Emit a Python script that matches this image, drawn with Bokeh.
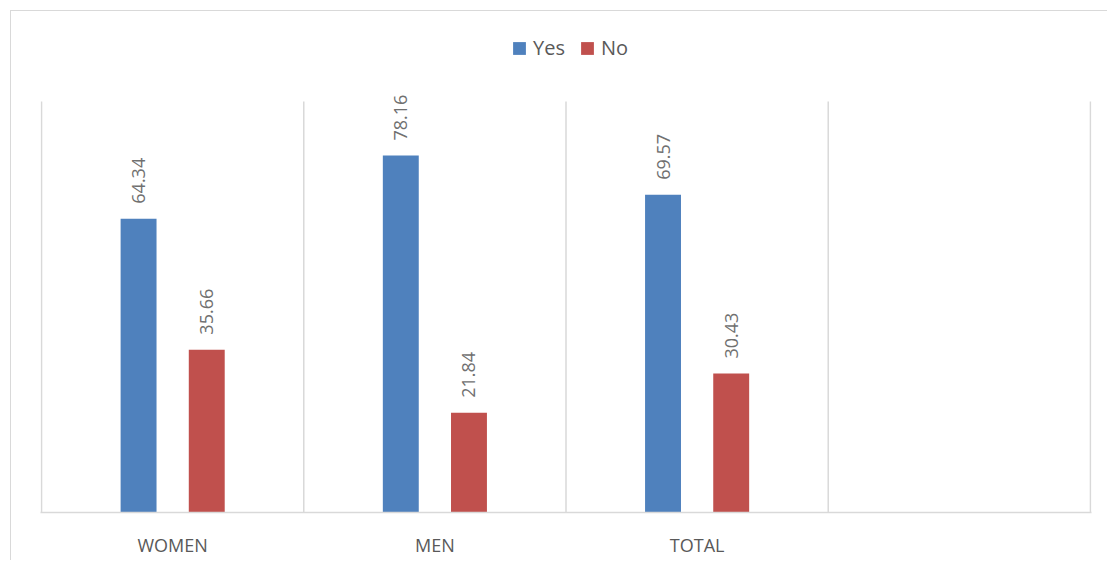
import numpy as np
from bokeh.plotting import figure
from bokeh.models import ColumnDataSource, Range1d, FixedTicker, LabelSet, Legend, LegendItem
from bokeh.core.properties import value
from bokeh.embed import file_html
from bokeh.resources import INLINE

categories = ["WOMEN", "MEN", "TOTAL"]
yes = [64.34, 78.16, 69.57]
no = [35.66, 21.84, 30.43]
series = ["Yes", "No"]
colors = ["#4f81bd", "#c0504d"]
y_max = 90

FONT = "Open Sans"
TXT = "#595959"
GRID = "#d9d9d9"

n_slots = len(categories) + 1
xc = np.arange(len(categories)) + 0.5
bw = 0.137
off = 0.13

src = ColumnDataSource(dict(
    x_yes=xc - off, x_no=xc + off, yes=yes, no=no,
    yes_lbl=[f"{v:.2f}" for v in yes], no_lbl=[f"{v:.2f}" for v in no],
))

# frame spans the full height below the legend area; the value axis tops out at y_max
frame_h, plot_h = 501, 411
p = figure(width=1097, height=550, x_range=Range1d(-0.004, n_slots + 0.004),
           y_range=Range1d(0, y_max * frame_h / plot_h),
           output_backend="svg", toolbar_location=None, y_axis_location=None,
           min_border_left=29, min_border_right=17, min_border_top=0, min_border_bottom=49)
p.margin = (10, 0, 0, 10)
p.styles = {"border-top": "1px solid #d9d9d9", "border-left": "1px solid #d9d9d9"}
p.outline_line_color = None
p.background_fill_color = "white"
p.border_fill_color = "white"
p.grid.visible = False

# vertical separators between category slots, from the baseline to the value-axis maximum
bounds = np.arange(n_slots + 1)
p.segment(x0=bounds, x1=bounds, y0=np.zeros(len(bounds)), y1=np.full(len(bounds), y_max),
          line_color=GRID, line_width=1.5)

r_yes = p.vbar(x="x_yes", top="yes", width=bw, source=src, fill_color=colors[0], line_color=None)
r_no = p.vbar(x="x_no", top="no", width=bw, source=src, fill_color=colors[1], line_color=None)

for col, lbl in (("x_yes", "yes"), ("x_no", "no")):
    p.add_layout(LabelSet(x=col, y=lbl, text=lbl + "_lbl", source=src, angle=np.pi / 2,
                          text_align="left", text_baseline="middle", y_offset=15,
                          text_font=value(FONT), text_font_size=value("18px"),
                          text_color="#707070"))

ax = p.xaxis[0]
ax.ticker = FixedTicker(ticks=list(xc))
ax.major_label_overrides = {float(v): c for v, c in zip(xc, categories)}
ax.major_tick_line_color = None
ax.minor_tick_line_color = None
ax.axis_line_color = GRID
ax.axis_line_width = 1.5
ax.major_label_text_font = FONT
ax.major_label_text_font_size = "18px"
ax.major_label_text_color = TXT
ax.major_label_standoff = 14

legend = Legend(items=[LegendItem(label=series[0], renderers=[r_yes]),
                       LegendItem(label=series[1], renderers=[r_no])],
                orientation="horizontal", location=(471, 451),
                glyph_width=16, glyph_height=16, label_standoff=6, spacing=14,
                padding=0, margin=0, border_line_color=None, background_fill_alpha=0,
                label_text_font=FONT, label_text_font_size="20px", label_text_color=TXT)
p.add_layout(legend)

open("out.html", "w").write(file_html(p, INLINE))
